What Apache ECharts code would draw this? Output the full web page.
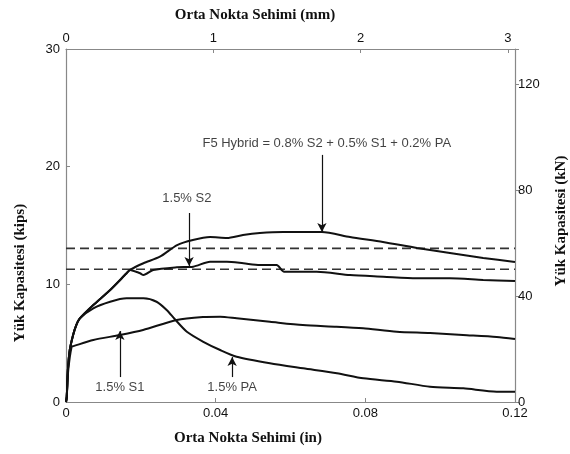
<!DOCTYPE html>
<html>
<head>
<meta charset="utf-8">
<script src="https://cdn.jsdelivr.net/npm/echarts@6/dist/echarts.min.js"></script>
<style>html,body{margin:0;padding:0;background:#fff}#c{width:570px;height:454px}</style>
</head>
<body>
<div id="c"></div>
<script>
// Deflection (in) vs load (kips)
const hybridData = [[0,0],[0.0002,0.45],[0.0005,2.7],[0.001,4.4],[0.0019,5.7],[0.0027,6.5],[0.0037,7.1],[0.0073,8.24],[0.0118,9.52],[0.0162,10.94],[0.0171,11.22],[0.0207,11.79],[0.0251,12.35],[0.0297,13.34],[0.0339,13.77],[0.0385,14.02],[0.043,13.94],[0.0473,14.19],[0.0518,14.36],[0.058,14.45],[0.0607,14.45],[0.0684,14.45],[0.0759,14.02],[0.0847,13.6],[0.0938,13.09],[0.1026,12.66],[0.1115,12.24],[0.12,11.9]];
const s2Data = [[0,0],[0.0002,0.45],[0.0005,2.7],[0.001,4.4],[0.0019,5.7],[0.0027,6.5],[0.0037,7.1],[0.0073,8.24],[0.0118,9.52],[0.0162,10.94],[0.0171,11.22],[0.0198,10.94],[0.0207,10.79],[0.0233,11.22],[0.0296,11.45],[0.034,11.5],[0.0385,11.92],[0.043,11.92],[0.0474,11.79],[0.0518,11.64],[0.0563,11.64],[0.0583,11.07],[0.067,11.07],[0.0759,10.79],[0.0848,10.65],[0.0937,10.51],[0.1026,10.51],[0.1115,10.37],[0.12,10.28]];
const s1Data = [[0,0],[0.0002,0.45],[0.0006,2.7],[0.0015,4.7],[0.002,4.75],[0.0073,5.27],[0.0144,5.69],[0.0206,6.12],[0.0296,6.97],[0.0366,7.22],[0.0412,7.25],[0.0456,7.11],[0.0545,6.82],[0.0633,6.54],[0.0723,6.4],[0.0794,6.26],[0.0884,5.97],[0.0973,5.86],[0.1061,5.69],[0.1151,5.52],[0.12,5.35]];
const paData = [[0,0],[0.0002,0.45],[0.0005,2.7],[0.001,4.4],[0.0019,5.7],[0.0027,6.5],[0.0037,7.11],[0.0073,7.96],[0.0118,8.52],[0.0162,8.81],[0.0207,8.81],[0.0242,8.52],[0.0269,7.82],[0.0291,7.03],[0.0323,5.97],[0.0367,5.12],[0.0412,4.42],[0.0456,3.85],[0.0545,3.29],[0.0634,2.86],[0.0724,2.44],[0.0795,2.01],[0.0884,1.73],[0.0973,1.3],[0.1062,1.16],[0.1151,0.88],[0.12,0.88]];
const dashUpper = [[0,13.06],[0.12,13.06]];
const dashLower = [[0,11.28],[0.12,11.28]];
const xTicksIn = [0,0.04,0.08,0.12];
const xTicksMm = [0,1,2,3];
const yTicksKips = [0,10,20,30];
const yTicksKN = [0,40,80,120];
// annotations: [label, textX, textY, arrowFromY, arrowToY, arrowX]
const annHybrid = ['F5 Hybrid = 0.8% S2 + 0.5% S1 + 0.2% PA', 0.0697, 22.0, 21.0, 14.45, 0.0684];
const annS2 = ['1.5% S2', 0.0323, 17.34, 16.06, 11.56, 0.0329];
const annS1 = ['1.5% S1', 0.0144, 1.27, 2.12, 6.03, 0.0144];
const annPA = ['1.5% PA', 0.0444, 1.27, 2.12, 3.82, 0.0444];

const IN_TO_MM = 25.4, KIP_TO_KN = 4.44822;
const chart = echarts.init(document.getElementById('c'));
const lblStyle = {color:'#111', fontFamily:'Liberation Sans, Arial, sans-serif', fontSize:13};
const axLine = {show:true, onZero:false, lineStyle:{color:'#888', width:1.2}};
function curve(data){
  return {type:'line', data:data, xAxisIndex:0, yAxisIndex:0, showSymbol:false, symbol:'none', smooth:0.25,
    lineStyle:{color:'#111', width:2}, z:3, silent:true};
}
function dashed(data){
  return {type:'line', data:data, xAxisIndex:0, yAxisIndex:0, showSymbol:false, symbol:'none',
    lineStyle:{color:'#333', width:1.6, type:[9,5]}, z:2, silent:true};
}
const annotations = [annHybrid, annS2, annS1, annPA];
const annSeries = {
  type:'scatter', xAxisIndex:0, yAxisIndex:0, symbolSize:0, silent:true,
  data: annotations.map(a => ({value:[a[1], a[2]], label:{show:true, formatter:a[0], position:'inside',
    color:'#111', fontFamily:'Liberation Sans, Arial, sans-serif', fontSize:13}})),
  markLine:{silent:true, symbol:['none','arrow'], symbolSize:[7,9], animation:false,
    lineStyle:{color:'#111', width:1.2, type:'solid'}, label:{show:false},
    data: annotations.map(a => [{coord:[a[5], a[3]]},{coord:[a[5], a[4]]}])}
};
chart.setOption({
  animation:false,
  grid:{left:66, right:55, top:49, bottom:52},
  xAxis:[
    {type:'value', position:'bottom', min:0, max:0.12, interval:0.04,
     axisLine:axLine, axisTick:{show:true, inside:true, length:4, lineStyle:{color:'#888'}},
     splitLine:{show:false}, axisLabel:Object.assign({margin:5, formatter:v=>xTicksIn.includes(+v.toFixed(2))?String(+v.toFixed(2)):''}, lblStyle)},
    {type:'value', position:'top', min:0, max:0.12*IN_TO_MM, interval:1,
     axisLine:axLine, axisTick:{show:true, inside:true, length:4, lineStyle:{color:'#888'}},
     splitLine:{show:false}, axisLabel:Object.assign({margin:4, formatter:v=>xTicksMm.includes(v)?String(v):''}, lblStyle)}
  ],
  yAxis:[
    {type:'value', position:'left', min:0, max:30, interval:10,
     axisLine:axLine, axisTick:{show:true, inside:true, length:4, lineStyle:{color:'#888'}},
     splitLine:{show:false}, axisLabel:Object.assign({margin:6, formatter:v=>yTicksKips.includes(v)?String(v):''}, lblStyle)},
    {type:'value', position:'right', min:0, max:30*KIP_TO_KN, interval:40,
     axisLine:axLine, axisTick:{show:true, inside:false, length:4, lineStyle:{color:'#888'}},
     splitLine:{show:false}, axisLabel:Object.assign({margin:3, formatter:v=>yTicksKN.includes(v)?String(v):''}, lblStyle)}
  ],
  graphic:[
    {type:'text', x:255, y:15, style:{text:'Orta Nokta Sehimi (mm)', font:'bold 15px "Liberation Serif", "Times New Roman", serif', fill:'#111', align:'center', verticalAlign:'middle'}},
    {type:'text', x:248, y:438, style:{text:'Orta Nokta Sehimi (in)', font:'bold 15px "Liberation Serif", "Times New Roman", serif', fill:'#111', align:'center', verticalAlign:'middle'}},
    {type:'text', x:20, y:273, rotation:Math.PI/2, style:{text:'Yük Kapasitesi (kips)', font:'bold 15px "Liberation Serif", "Times New Roman", serif', fill:'#111', align:'center', verticalAlign:'middle'}},
    {type:'text', x:561, y:221, rotation:Math.PI/2, style:{text:'Yük Kapasitesi (kN)', font:'bold 15px "Liberation Serif", "Times New Roman", serif', fill:'#111', align:'center', verticalAlign:'middle'}}
  ],
  series:[
    dashed(dashUpper), dashed(dashLower),
    curve(hybridData), curve(s2Data), curve(s1Data), curve(paData),
    {type:'line', data:[], xAxisIndex:1, yAxisIndex:1},
    annSeries
  ]
});
</script>
</body>
</html>
